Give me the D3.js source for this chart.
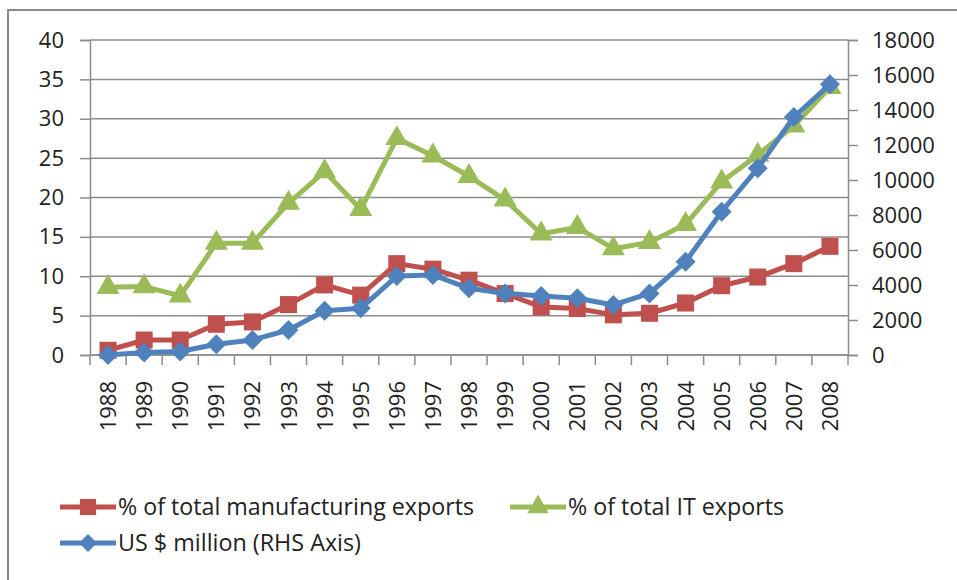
<!DOCTYPE html>
<html>
<head>
<meta charset="utf-8">
<script src="https://cdn.jsdelivr.net/npm/d3@7"></script>
<style>
  body { margin: 0; background: #fff; }
  text { font-family: "Open Sans", "Noto Sans", sans-serif; fill: #222; }
</style>
</head>
<body>
<div class="chart"></div>
<script>
(function() {
  var years = ['1988','1989','1990','1991','1992','1993','1994','1995','1996','1997','1998',
               '1999','2000','2001','2002','2003','2004','2005','2006','2007','2008'];
  var manufPct = [0.6, 1.9, 1.9, 3.9, 4.2, 6.4, 8.9, 7.6, 11.6, 10.9, 9.5,
                  7.8, 6.1, 5.9, 5.1, 5.3, 6.6, 8.8, 9.9, 11.6, 13.8];
  var itPct = [8.6, 8.7, 7.5, 14.2, 14.2, 19.3, 23.3, 18.5, 27.5, 25.3, 22.7,
               19.7, 15.4, 16.2, 13.5, 14.3, 16.6, 22.0, 25.4, 29.1, 34.0];
  var usdMillion = [0, 150, 200, 610, 860, 1430, 2530, 2670, 4510, 4570, 3810,
                    3520, 3370, 3240, 2860, 3520, 5330, 8190, 10670, 13600, 15470];
  var leftTicks = [0, 5, 10, 15, 20, 25, 30, 35, 40];
  var rightTicks = [0, 2000, 4000, 6000, 8000, 10000, 12000, 14000, 16000, 18000];

  var opts = { width: 957, height: 580, left: 90, right: 848, top: 40, bottom: 355 };
  var red = '#C0504D', green = '#9BBB59', blue = '#4F81BD', grid = '#8c8c8c';

  var svg = d3.select('.chart').append('svg')
              .attr('width', opts.width)
              .attr('height', opts.height);

  // outer frame
  svg.append('rect')
     .attr('x', 8).attr('y', 10)
     .attr('width', 1100).attr('height', 700)
     .style('fill', 'none').style('stroke', '#8a8a8a').style('stroke-width', 2);

  var x = d3.scaleBand().domain(years).range([opts.left, opts.right]);
  var yL = d3.scaleLinear().domain([0, 40]).range([opts.bottom, opts.top]);
  var yR = d3.scaleLinear().domain([0, 18000]).range([opts.bottom, opts.top]);
  var cx = function(i) { return x(years[i]) + x.bandwidth() / 2; };

  // gridlines
  svg.append('g').selectAll('line').data(leftTicks).enter().append('line')
     .attr('x1', opts.left).attr('x2', opts.right)
     .attr('y1', function(d) { return yL(d); })
     .attr('y2', function(d) { return yL(d); })
     .style('stroke', grid).style('stroke-width', 1.5);

  // left axis
  var leftAxis = svg.append('g')
     .attr('transform', 'translate(' + opts.left + ',0)')
     .call(d3.axisLeft(yL).tickValues(leftTicks).tickSize(10).tickPadding(16));
  leftAxis.selectAll('text').style('font-size', '22px');

  // right axis
  var rightAxis = svg.append('g')
     .attr('transform', 'translate(' + opts.right + ',0)')
     .call(d3.axisRight(yR).tickValues(rightTicks).tickFormat(d3.format('d'))
             .tickSize(10).tickPadding(14));
  rightAxis.selectAll('text').style('font-size', '22px');

  // bottom axis: ticks between categories
  var bounds = years.map(function(d) { return x(d); }).concat([opts.right]);
  var bottom = svg.append('g');
  bottom.selectAll('line').data(bounds).enter().append('line')
     .attr('x1', function(d) { return d; }).attr('x2', function(d) { return d; })
     .attr('y1', opts.bottom).attr('y2', opts.bottom + 10)
     .style('stroke', grid).style('stroke-width', 1.5);
  bottom.append('line')
     .attr('x1', opts.left).attr('x2', opts.right)
     .attr('y1', opts.bottom).attr('y2', opts.bottom)
     .style('stroke', grid).style('stroke-width', 1.5);
  bottom.selectAll('text').data(years).enter().append('text')
     .attr('transform', function(d, i) {
       return 'translate(' + (cx(i) + 8) + ',' + (opts.bottom + 26) + ') rotate(-90)';
     })
     .attr('text-anchor', 'end')
     .style('font-size', '22px')
     .text(function(d) { return d; });

  [leftAxis, rightAxis].forEach(function(a) {
    a.select('.domain').style('stroke', grid).style('stroke-width', 1.5);
    a.selectAll('.tick line').style('stroke', grid).style('stroke-width', 1.5);
    a.selectAll('text').style('fill', '#222');
  });

  // marker shapes
  var square = d3.symbol().type(d3.symbolSquare).size(290);
  var triangle = d3.symbol().type(d3.symbolTriangle).size(230);
  var diamond = function(r) {
    return 'M0,' + (-r) + 'L' + r + ',0L0,' + r + 'L' + (-r) + ',0Z';
  };

  var drawSeries = function(vals, scale, color, marker) {
    var line = d3.line()
      .x(function(d, i) { return cx(i); })
      .y(function(d) { return scale(d); });
    svg.append('path').datum(vals)
       .attr('d', line)
       .style('fill', 'none').style('stroke', color).style('stroke-width', 5)
       .style('stroke-linejoin', 'round');
    svg.append('g').selectAll('path').data(vals).enter().append('path')
       .attr('d', marker)
       .attr('transform', function(d, i) { return 'translate(' + cx(i) + ',' + scale(d) + ')'; })
       .style('fill', color);
  };

  drawSeries(itPct, yL, green, triangle);
  drawSeries(manufPct, yL, red, square);
  drawSeries(usdMillion, yR, blue, diamond(10));

  // legend
  var legendItems = [
    { label: '% of total manufacturing exports', color: red, x: 60, y: 507, w: 356,
      marker: d3.symbol().type(d3.symbolSquare).size(260)() },
    { label: '% of total IT exports', color: green, x: 510, y: 507, w: 216,
      marker: d3.symbol().type(d3.symbolTriangle).size(200)() },
    { label: 'US $ million (RHS Axis)', color: blue, x: 60, y: 543, w: 243,
      marker: diamond(9) }
  ];
  var legend = svg.append('g').selectAll('g').data(legendItems).enter().append('g')
     .attr('transform', function(d) { return 'translate(' + d.x + ',' + d.y + ')'; });
  legend.append('line')
     .attr('x1', 0).attr('x2', 56).attr('y1', 0).attr('y2', 0)
     .style('stroke', function(d) { return d.color; }).style('stroke-width', 5);
  legend.append('path')
     .attr('d', function(d) { return d.marker; })
     .attr('transform', 'translate(28,0)')
     .style('fill', function(d) { return d.color; });
  legend.append('text')
     .attr('x', 58).attr('y', 0).attr('dy', '0.35em')
     .attr('textLength', function(d) { return d.w; })
     .attr('lengthAdjust', 'spacingAndGlyphs')
     .style('font-size', '23px')
     .text(function(d) { return d.label; });
}).call(this);
</script>
</body>
</html>
